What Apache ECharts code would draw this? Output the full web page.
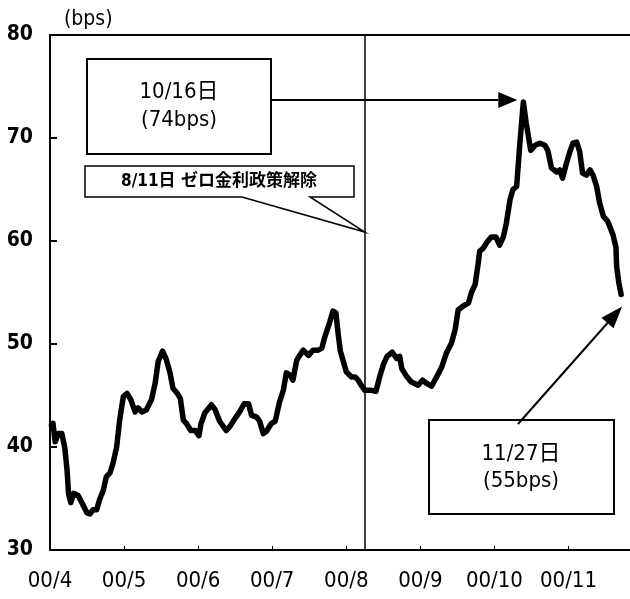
<!DOCTYPE html>
<html>
<head>
<meta charset="utf-8">
<script src="https://cdn.jsdelivr.net/npm/echarts@6/dist/echarts.min.js"></script>
<style>
  html, body { margin: 0; padding: 0; background: #fff; }
  #main { width: 630px; height: 599px; }
</style>
</head>
<body>
<div id="main"></div>
<script>
// x軸: 2000/4 を 0 とした月数, y軸: スプレッド (bps)
const monthLabels = ['00/4', '00/5', '00/6', '00/7', '00/8', '00/9', '00/10', '00/11']
const xMonths = [
  0.02, 0.04, 0.07, 0.11, 0.16, 0.20, 0.23, 0.25, 0.28, 0.32, 0.38, 0.43, 0.50, 0.54, 0.58, 0.63,
  0.67, 0.72, 0.76, 0.81, 0.85, 0.90, 0.94, 0.99, 1.04, 1.09, 1.15, 1.19, 1.24, 1.30, 1.37, 1.42,
  1.46, 1.52, 1.57, 1.62, 1.66, 1.72, 1.76, 1.80, 1.84, 1.90, 1.96, 2.01, 2.04, 2.09, 2.18, 2.23,
  2.29, 2.38, 2.43, 2.50, 2.56, 2.62, 2.68, 2.72, 2.79, 2.83, 2.88, 2.92, 2.99, 3.04, 3.10, 3.15,
  3.19, 3.24, 3.28, 3.33, 3.37, 3.42, 3.49, 3.55, 3.62, 3.67, 3.71, 3.78, 3.82, 3.86, 3.89, 3.92,
  3.96, 4.00, 4.07, 4.12, 4.16, 4.21, 4.25, 4.34, 4.40, 4.45, 4.50, 4.55, 4.62, 4.68, 4.72, 4.75,
  4.81, 4.88, 4.97, 5.03, 5.08, 5.15, 5.22, 5.29, 5.35, 5.42, 5.47, 5.51, 5.58, 5.65, 5.69, 5.74,
  5.78, 5.80, 5.85, 5.90, 5.96, 6.02, 6.07, 6.12, 6.16, 6.21, 6.25, 6.30, 6.34, 6.39, 6.43, 6.49,
  6.55, 6.61, 6.68, 6.72, 6.77, 6.84, 6.88, 6.92, 6.97, 7.02, 7.06, 7.11, 7.15, 7.19, 7.24, 7.29,
  7.33, 7.38, 7.42, 7.47, 7.53, 7.60, 7.64, 7.65, 7.68, 7.71
]
const spread = [
  42.1, 42.3, 40.5, 41.3, 41.3, 39.9, 37.8, 35.5, 34.6, 35.5, 35.3, 34.6, 33.6, 33.5, 33.9, 33.9,
  34.9, 35.8, 37.1, 37.5, 38.4, 40.0, 42.6, 44.9, 45.2, 44.6, 43.4, 43.8, 43.4, 43.6, 44.6, 46.2,
  48.3, 49.3, 48.5, 47.2, 45.7, 45.2, 44.7, 42.6, 42.3, 41.6, 41.6, 41.1, 42.3, 43.3, 44.1, 43.6,
  42.5, 41.6, 42.0, 42.8, 43.4, 44.2, 44.2, 43.1, 42.9, 42.5, 41.3, 41.5, 42.3, 42.5, 44.4, 45.5,
  47.2, 47.0, 46.5, 48.4, 48.9, 49.4, 48.9, 49.4, 49.4, 49.6, 50.7, 52.2, 53.2, 53.0, 51.0, 49.3,
  48.3, 47.3, 46.8, 46.8, 46.5, 45.9, 45.5, 45.5, 45.4, 46.8, 48.0, 48.8, 49.2, 48.6, 48.8, 47.6,
  46.9, 46.3, 46.0, 46.5, 46.2, 45.9, 46.8, 47.8, 49.1, 50.1, 51.4, 53.3, 53.7, 54.0, 55.0, 55.8,
  57.8, 59.0, 59.3, 59.9, 60.4, 60.4, 59.6, 60.4, 61.7, 64.0, 65.0, 65.3, 69.2, 73.5, 71.4, 68.8,
  69.3, 69.5, 69.3, 68.8, 67.1, 66.7, 66.9, 66.1, 67.5, 68.7, 69.5, 69.6, 68.7, 66.6, 66.4, 66.9,
  66.4, 65.3, 63.7, 62.4, 61.9, 60.6, 59.4, 57.5, 55.9, 54.8
]
const eventX = 4.25 // 8/11 ゼロ金利政策解除
const peakText = ['10/16日', '(74bps)']
const lastText = ['11/27日', '(55bps)']
const eventText = '8/11日 ゼロ金利政策解除'

const FONT = "'DejaVu Sans Condensed', 'Noto Sans CJK JP', sans-serif"
const chart = echarts.init(document.getElementById('main'))

chart.setOption({
  backgroundColor: '#fff',
  animation: false,
  grid: { left: 50, right: 0, top: 35, bottom: 49 },
  xAxis: [{
    type: 'value',
    min: 0,
    max: 7.83,
    interval: 1,
    axisLine: { lineStyle: { color: '#000', width: 2 } },
    axisTick: { inside: true, length: 4, lineStyle: { color: '#000', width: 1 } },
    splitLine: { show: false },
    axisLabel: {
      formatter: v => monthLabels[v] || '',
      color: '#000', fontFamily: FONT, fontSize: 22, margin: 20, showMaxLabel: false
    }
  }, {
    type: 'value',
    position: 'top',
    min: 0,
    max: 7.83,
    axisLine: { show: true, lineStyle: { color: '#000', width: 2 } },
    axisTick: { show: false },
    axisLabel: { show: false },
    splitLine: { show: false }
  }],
  yAxis: {
    type: 'value',
    min: 30,
    max: 80,
    interval: 10,
    name: '(bps)',
    nameLocation: 'end',
    nameGap: 5,
    nameTextStyle: { color: '#000', fontFamily: FONT, fontSize: 21, align: 'left', padding: [0, 0, 0, 14] },
    axisLine: { show: true, lineStyle: { color: '#000', width: 2 } },
    axisTick: { show: true, inside: true, length: 7, lineStyle: { color: '#000', width: 2 } },
    splitLine: { show: false },
    axisLabel: { color: '#000', fontFamily: FONT, fontSize: 21, fontWeight: 'bold', margin: 17 }
  },
  series: [{
    type: 'line',
    data: xMonths.map((x, i) => [x, spread[i]]),
    showSymbol: false,
    symbol: 'none',
    lineStyle: { color: '#000', width: 5.5, join: 'round', cap: 'round' },
    markLine: {
      silent: true,
      symbol: 'none',
      label: { show: false },
      lineStyle: { color: '#000', width: 1.5, type: 'solid' },
      data: [{ xAxis: eventX }]
    }
  }]
})

// 注記（枠・矢印）
const peakIdx = spread.indexOf(Math.max(...spread))
const lastIdx = spread.length - 1
const peakPt = chart.convertToPixel({ seriesIndex: 0 }, [xMonths[peakIdx], spread[peakIdx]])
const lastPt = chart.convertToPixel({ seriesIndex: 0 }, [xMonths[lastIdx], spread[lastIdx]])
const eventPx = chart.convertToPixel({ xAxisIndex: 0 }, eventX)

function arrow(x1, y1, x2, y2, len, half) {
  const a = Math.atan2(y2 - y1, x2 - x1)
  const bx = x2 - len * Math.cos(a)
  const by = y2 - len * Math.sin(a)
  const nx = -Math.sin(a) * half
  const ny = Math.cos(a) * half
  return [
    { type: 'line', shape: { x1, y1, x2: bx, y2: by }, style: { stroke: '#000', lineWidth: 2 }, z: 100 },
    { type: 'polygon', shape: { points: [[x2, y2], [bx + nx, by + ny], [bx - nx, by - ny]] }, style: { fill: '#000' }, z: 100 }
  ]
}
function box(x, y, w, h) {
  return { type: 'rect', shape: { x, y, width: w, height: h }, style: { fill: '#fff', stroke: '#000', lineWidth: 2 }, z: 100 }
}
function label(text, x, y, size, weight) {
  return {
    type: 'text', z: 101,
    style: { text, x, y, fill: '#000', fontFamily: FONT, fontSize: size, fontWeight: weight || 'normal', align: 'center', verticalAlign: 'middle' }
  }
}

const graphics = [
  box(87, 59, 184, 95),
  label(peakText[0], 179, 92, 22),
  label(peakText[1], 179, 120, 22),
  ...arrow(271, peakPt[1] - 2, peakPt[0] - 6, peakPt[1] - 2, 19, 8),
  {
    type: 'polygon', z: 100,
    shape: { points: [[85, 166], [354, 166], [354, 197], [310, 197], [eventPx, 232], [242, 197], [85, 197]] },
    style: { fill: '#fff', stroke: '#000', lineWidth: 1.5 }
  },
  label(eventText, 219, 182, 17, 'bold'),
  box(429, 420, 185, 94),
  label(lastText[0], 521, 454, 22),
  label(lastText[1], 521, 481, 22),
  ...arrow(518, 424, lastPt[0] + 1, lastPt[1] + 12, 22, 8)
]
chart.setOption({ graphic: graphics })

window.addEventListener('resize', () => {
  chart.resize()
})
</script>
</body>
</html>
